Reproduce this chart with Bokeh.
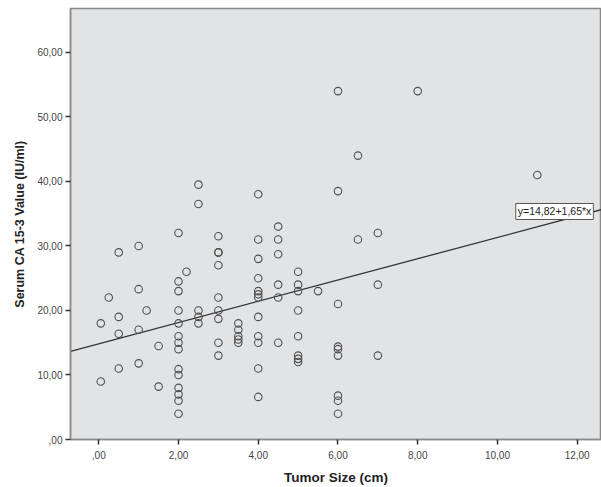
from bokeh.plotting import figure
from bokeh.models import Range1d, FixedTicker, Label, ColumnDataSource
from bokeh.embed import file_html
from bokeh.resources import INLINE

# ---- data ----
tumor_size = (
    [0.05, 0.05, 0.25]
    + [0.5] * 4 + [1.0] * 4 + [1.2] + [1.5] * 2
    + [2.0] * 14 + [2.2] + [2.5] * 5 + [3.0] * 9 + [3.5] * 5
    + [4.0] * 12 + [4.5] * 6 + [5.0] * 8 + [5.5] + [6.0] * 9
    + [6.5] * 2 + [7.0] * 3 + [8.0] + [11.0]
)
ca153 = (
    [18, 9, 22]
    + [29, 19, 16.4, 11] + [30, 23.3, 17, 11.8] + [20] + [14.5, 8.2]
    + [32, 24.5, 23, 20, 18, 16, 15, 14, 10.9, 10, 8, 7, 6, 4]
    + [26]
    + [39.5, 36.5, 20, 19, 18]
    + [31.5, 29, 29, 27, 22, 20, 18.7, 15, 13]
    + [18, 17, 16, 15.5, 15]
    + [38, 31, 28, 25, 23, 22.5, 22, 19, 16, 15, 11, 6.6]
    + [33, 31, 28.7, 24, 22, 15]
    + [26, 24, 23, 20, 16, 13, 12.5, 12]
    + [23]
    + [54, 38.5, 21, 14.4, 14, 13, 6.8, 6, 4]
    + [44, 31]
    + [32, 24, 13]
    + [54]
    + [41]
)
fit_intercept = 14.82
fit_slope = 1.65
fit_label = "y=14,82+1,65*x"

x_ticks = [0, 2, 4, 6, 8, 10, 12]
x_tick_labels = [",00", "2,00", "4,00", "6,00", "8,00", "10,00", "12,00"]
y_ticks = [0, 10, 20, 30, 40, 50, 60]
y_tick_labels = [",00", "10,00", "20,00", "30,00", "40,00", "50,00", "60,00"]

x_title = "Tumor Size (cm)"
y_title = "Serum CA 15-3 Value (IU/ml)"

# ---- figure ----
xr = Range1d(-0.71, 12.61)
yr = Range1d(0, 66.8)
p = figure(width=601, height=487, x_range=xr, y_range=yr,
           output_backend="svg", toolbar_location=None,
           min_border_left=70, min_border_right=0,
           min_border_top=8, min_border_bottom=47)
p.background_fill_color = "#e2e3e5"
p.border_fill_color = "white"
p.outline_line_color = "#8a8a8a"
p.outline_line_width = 1.5
p.xgrid.visible = False
p.ygrid.visible = False

font = "Liberation Sans"
for ax, ticks, labels in ((p.xaxis[0], x_ticks, x_tick_labels),
                          (p.yaxis[0], y_ticks, y_tick_labels)):
    ax.ticker = FixedTicker(ticks=ticks)
    ax.major_label_overrides = {t: l for t, l in zip(ticks, labels)}
    ax.axis_line_color = "#8a8a8a"
    ax.axis_line_width = 1.5
    ax.major_tick_line_color = "#333333"
    ax.major_tick_line_width = 1.5
    ax.major_tick_out = 5
    ax.major_tick_in = 0
    ax.minor_tick_line_color = None
    ax.major_label_text_font = font
    ax.major_label_text_font_size = "10px"
    ax.major_label_text_color = "#444444"
    ax.axis_label_text_font = font
    ax.axis_label_text_font_style = "bold"
    ax.axis_label_text_color = "#222222"

p.xaxis.axis_label = x_title
p.yaxis.axis_label = y_title
p.xaxis.axis_label_text_font_size = "13.5px"
p.yaxis.axis_label_text_font_size = "12.5px"
p.xaxis.major_label_standoff = 6
p.xaxis.axis_label_standoff = 8
p.yaxis.major_label_standoff = 3
p.yaxis.axis_label_standoff = 7

# regression line across full range
fx = [xr.start, xr.end]
fy = [fit_intercept + fit_slope * v for v in fx]
p.line(fx, fy, line_color="#333333", line_width=1.3)

src = ColumnDataSource(data=dict(x=tumor_size, y=ca153))
p.scatter("x", "y", source=src, marker="circle", size=7.5,
          fill_color=None, line_color="#505050", line_width=1.1)

lab = Label(x=10.46, y=34.1, text=fit_label,
            text_font=font, text_font_size="10.5px", text_color="#222222",
            background_fill_color="white", border_line_color="#555555",
            border_line_width=1, padding=2)
p.add_layout(lab)

open("out.html", "w").write(file_html(p, INLINE))
